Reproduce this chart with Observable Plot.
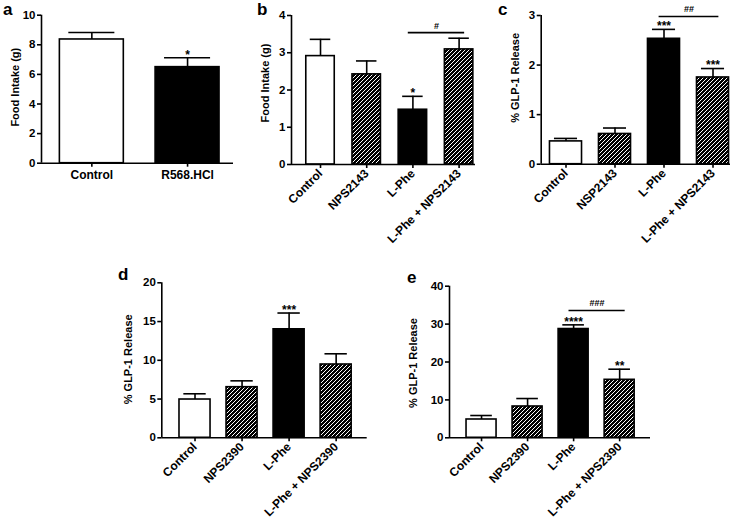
<!DOCTYPE html>
<html><head><meta charset="utf-8">
<script src="https://cdn.jsdelivr.net/npm/d3@7"></script>
<script src="https://cdn.jsdelivr.net/npm/@observablehq/plot@0.6"></script>
<style>
body{margin:0;background:#fff;}
#fig{position:relative;width:739px;height:525px;overflow:hidden;font-family:"Liberation Sans",Arial,sans-serif;color:#000;}
.panel{position:absolute;}
.letter{position:absolute;font-weight:bold;font-size:17px;line-height:17px;}
</style></head><body><div id="fig"></div>
<script>
// ---------- data ----------
const aCats = ["Control", "R568.HCl"];
const aMean = [8.36, 6.49];
const aSem  = [0.47, 0.63];
const aFill = ["open", "solid"];
const aSig  = ["", "*"];
const aTicks = [0, 2, 4, 6, 8, 10];

const bCats = ["Control", "NPS2143", "L-Phe", "L-Phe + NPS2143"];
const bMean = [2.91, 2.42, 1.47, 3.09];
const bSem  = [0.45, 0.36, 0.36, 0.30];
const bFill = ["open", "hatch", "solid", "hatch"];
const bSig  = ["", "", "*", ""];
const bTicks = [0, 1, 2, 3, 4];
const bBracket = [{from: 2, to: 3, y: 3.54, label: "#"}];

const cCats = ["Control", "NSP2143", "L-Phe", "L-Phe + NPS2143"];
const cMean = [0.46, 0.61, 2.53, 1.75];
const cSem  = [0.06, 0.12, 0.19, 0.18];
const cFill = ["open", "hatch", "solid", "hatch"];
const cSig  = ["", "", "***", "***"];
const cTicks = [0, 1, 2, 3];
const cBracket = [{from: 2, to: 3, y: 2.98, label: "##"}];

const dCats = ["Control", "NPS2390", "L-Phe", "L-Phe + NPS2390"];
const dMean = [4.94, 6.53, 14.0, 9.46];
const dSem  = [0.74, 0.82, 2.1, 1.38];
const dFill = ["open", "hatch", "solid", "hatch"];
const dSig  = ["", "", "***", ""];
const dTicks = [0, 5, 10, 15, 20];

const eCats = ["Control", "NPS2390", "L-Phe", "L-Phe + NPS2390"];
const eMean = [4.83, 8.26, 28.7, 15.3];
const eSem  = [1.05, 2.1, 1.1, 2.8];
const eFill = ["open", "hatch", "solid", "hatch"];
const eSig  = ["", "", "****", "**"];
const eTicks = [0, 10, 20, 30, 40];
const eBracket = [{from: 2, to: 3, y: 33.6, label: "###"}];

const foodTitle = "Food Intake (g)";
const glpTitle = "% GLP-1 Release";

// ---------- drawing ----------
const fig = document.getElementById("fig");
const FONT = "Liberation Sans, Arial, sans-serif";
const SW = 1.6;

function panel(key, d, L) {
  const rows = d.cats.map((c, i) => ({i, cat: c, mean: d.mean[i], sem: d.sem[i], fill: d.fill[i], sig: d.sig[i]}));
  const pid = "hatch-" + key;
  const P = 4;
  const defs = () => {
    const g = d3.create("svg:defs");
    const p = g.append("pattern").attr("id", pid).attr("patternUnits", "userSpaceOnUse")
      .attr("width", P).attr("height", P);
    p.append("rect").attr("width", P).attr("height", P).attr("fill", "white");
    p.append("path").attr("d", `M${-P/4},${P/4}L${P/4},${-P/4}M0,${P}L${P},0M${P*3/4},${P*5/4}L${P*5/4},${P*3/4}`)
      .attr("stroke", "black").attr("stroke-width", 1.5).attr("shape-rendering", "crispEdges");
    return g.node();
  };
  const fills = {open: "white", solid: "black", hatch: `url(#${pid})`};
  const marks = [defs];
  for (const t of ["open", "hatch", "solid"]) {
    marks.push(Plot.rect(rows, {filter: r => r.fill === t, x1: r => r.i - L.hw, x2: r => r.i + L.hw,
      y1: 0, y2: "mean", fill: fills[t], stroke: "black", strokeWidth: SW}));
  }
  marks.push(Plot.ruleX(rows, {x: "i", y1: "mean", y2: r => r.mean + r.sem, strokeWidth: SW}));
  marks.push(Plot.ruleY(rows, {y: r => r.mean + r.sem, x1: r => r.i - L.hw * 0.72, x2: r => r.i + L.hw * 0.72, strokeWidth: SW}));
  marks.push(Plot.text(rows, {filter: r => r.sig, x: "i", y: r => r.mean + r.sem, text: "sig", dy: -3,
    fontSize: 12, fontWeight: "bold", lineAnchor: "middle"}));
  if (d.bracket) {
    marks.push(Plot.ruleY(d.bracket, {y: "y", x1: b => b.from - 0.1, x2: b => b.to + 0.12, strokeWidth: SW}));
    marks.push(Plot.text(d.bracket, {x: b => (b.from + b.to) / 2 + 0.01, y: "y", text: "label", dy: -7,
      fontSize: 9, fontWeight: "bold", lineAnchor: "middle"}));
  }
  marks.push(Plot.ruleY([0], {strokeWidth: SW}));
  marks.push(Plot.ruleX([L.xDomain[0]], {strokeWidth: SW}));
  marks.push(Plot.axisY({ticks: d.ticks, tickFormat: v => String(v), tickSize: 4, tickPadding: 2,
    fontSize: 11.5, fontWeight: "bold", label: null, strokeWidth: SW}));
  marks.push(Plot.axisX({ticks: d3.range(rows.length), tickFormat: i => d.cats[i], tickSize: 4, tickPadding: 3,
    tickRotate: L.rotate, fontSize: 12, fontWeight: "bold", label: null, strokeWidth: SW}));
  marks.push(Plot.text([d.title], {frameAnchor: "left", rotate: -90, text: t => t, textAnchor: "middle",
    lineAnchor: "middle", dx: L.titleDx, dy: L.titleDy, fontSize: 11, fontWeight: "bold"}));

  const svg = Plot.plot({
    width: L.width, height: L.height,
    marginLeft: L.mL, marginRight: L.mR, marginTop: L.mT, marginBottom: L.mB,
    x: {domain: L.xDomain},
    y: {domain: [0, d.ticks[d.ticks.length - 1]]},
    style: {fontFamily: FONT, color: "black", background: "transparent", overflow: "visible"},
    marks
  });
  svg.classList.add("panel");
  svg.style.left = L.left + "px";
  svg.style.top = L.top + "px";
  fig.appendChild(svg);
}

panel("a", {cats: aCats, mean: aMean, sem: aSem, fill: aFill, sig: aSig, ticks: aTicks, title: foodTitle},
  {left: 0, top: 0, width: 245, height: 200, mL: 41, mR: 12, mT: 14.7, mB: 37.3,
   xDomain: [-0.526, 1.48], hw: 0.334, rotate: 0, titleDx: -26, titleDy: -2});
panel("b", {cats: bCats, mean: bMean, sem: bSem, fill: bFill, sig: bSig, ticks: bTicks, title: foodTitle, bracket: bBracket},
  {left: 245, top: 0, width: 245, height: 255, mL: 46, mR: 15, mT: 15, mB: 91,
   xDomain: [-0.628, 3.355], hw: 0.308, rotate: -45, titleDx: -26, titleDy: -7});
panel("c", {cats: cCats, mean: cMean, sem: cSem, fill: cFill, sig: cSig, ticks: cTicks, title: glpTitle, bracket: cBracket},
  {left: 495, top: 0, width: 244, height: 255, mL: 45.7, mR: 9, mT: 15, mB: 91.3,
   xDomain: [-0.506, 3.357], hw: 0.327, rotate: -45, titleDx: -25.7, titleDy: -12});
panel("d", {cats: dCats, mean: dMean, sem: dSem, fill: dFill, sig: dSig, ticks: dTicks, title: glpTitle},
  {left: 100, top: 270, width: 280, height: 255, mL: 61.3, mR: 13.3, mT: 12.3, mB: 87.7,
   xDomain: [-0.706, 3.66], hw: 0.33, rotate: -45, titleDx: -33, titleDy: -1});
panel("e", {cats: eCats, mean: eMean, sem: eSem, fill: eFill, sig: eSig, ticks: eTicks, title: glpTitle, bracket: eBracket},
  {left: 390, top: 270, width: 349, height: 255, mL: 59, mR: 89, mT: 15.7, mB: 87.7,
   xDomain: [-0.696, 3.67], hw: 0.326, rotate: -45, titleDx: -36, titleDy: 1});

// panel letters (baseline positions)
const letters = [["a", 3, 15], ["b", 257, 15], ["c", 498, 15], ["d", 118, 280], ["e", 407, 283]];
for (const [t, x, y] of letters) {
  const el = document.createElement("div");
  el.className = "letter";
  el.textContent = t;
  el.style.left = x + "px";
  el.style.top = (y - 14) + "px";
  fig.appendChild(el);
}
</script>
</body></html>
